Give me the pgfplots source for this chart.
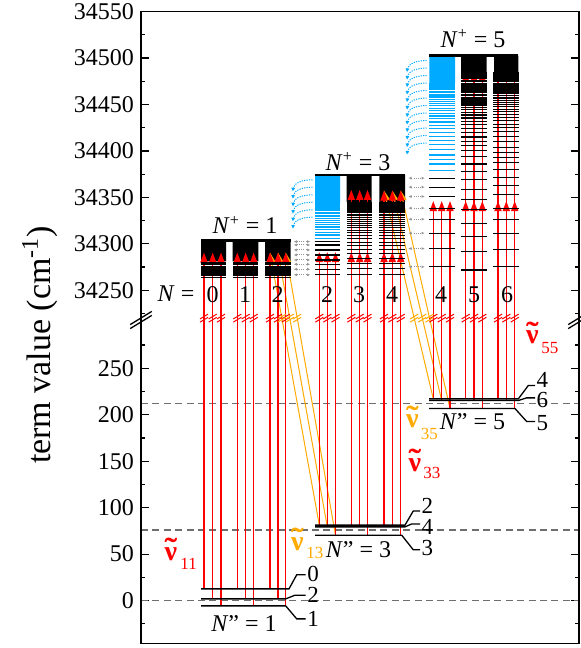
\documentclass[border=0pt]{standalone}
\usepackage{pgfplots}
\usepackage{pgfplotstable}
\pgfplotsset{compat=1.18}
\usepackage{fontspec}
\setmainfont{Liberation Serif}
\usetikzlibrary{arrows.meta}

\definecolor{rd}{RGB}{255,0,0}
\definecolor{og}{RGB}{255,170,0}
\definecolor{cy}{RGB}{0,170,255}
\definecolor{dg}{RGB}{110,110,110}
\definecolor{lg}{RGB}{150,150,150}

\pgfdeclareplotmark{brk}{%
  \pgfpathmoveto{\pgfqpoint{-2pt}{-2pt}}\pgfpathlineto{\pgfqpoint{2pt}{0.4pt}}%
  \pgfpathmoveto{\pgfqpoint{-2pt}{-0.4pt}}\pgfpathlineto{\pgfqpoint{2pt}{2pt}}%
  \pgfusepathqstroke}
\pgfdeclareplotmark{dda}{%
  \pgfsetdash{{0.5pt}{0.6pt}}{0pt}%
  \pgfpathmoveto{\pgfqpoint{-2.6pt}{0pt}}\pgfpathlineto{\pgfqpoint{2.6pt}{0pt}}%
  \pgfusepathqstroke
  \pgfsetdash{}{0pt}%
  \pgfpathmoveto{\pgfqpoint{-4pt}{0pt}}\pgfpathlineto{\pgfqpoint{-2.5pt}{0.7pt}}\pgfpathlineto{\pgfqpoint{-2.5pt}{-0.7pt}}\pgfpathclose
  \pgfpathmoveto{\pgfqpoint{4pt}{0pt}}\pgfpathlineto{\pgfqpoint{2.5pt}{0.7pt}}\pgfpathlineto{\pgfqpoint{2.5pt}{-0.7pt}}\pgfpathclose
  \pgfusepathqfill}
\pgfdeclareplotmark{carc}{%
  \pgfsetdash{{0.6pt}{0.6pt}}{0pt}%
  \pgfpathmoveto{\pgfqpoint{5pt}{2.5pt}}%
  \pgfpathcurveto{\pgfqpoint{0pt}{2.5pt}}{\pgfqpoint{-4.3pt}{1pt}}{\pgfqpoint{-4.6pt}{-1.8pt}}%
  \pgfusepathqstroke
  \pgfsetdash{}{0pt}%
  \pgfpathmoveto{\pgfqpoint{-4.8pt}{-3.2pt}}\pgfpathlineto{\pgfqpoint{-5.6pt}{-1.4pt}}\pgfpathlineto{\pgfqpoint{-3.7pt}{-1.6pt}}\pgfpathclose
  \pgfusepathqfill}

\pgfplotsset{
  bk/.style={x=0.5pt, y=0.4645pt, xmin=141, xmax=579, xtick=\empty,
    anchor=south west, axis line style={draw=none}, tick align=inside,
    scaled y ticks=false,
    major tick length=4pt, minor tick length=2.2pt,
    major tick style={black, line width=0.6pt}, minor tick style={black, line width=0.6pt},
    yticklabel style={font=\fontsize{12}{14}\selectfont}},
  ra/.style={rd, line width=0.55pt, -{Triangle[length=5pt,width=3.6pt]}},
  oa/.style={og, line width=0.5pt, -{Triangle[length=5pt,width=3.6pt]}},
  lv/.style={black, line width=0.65pt},
  rows/.style={only marks, mark=-, mark size=6.35pt, mark options={line width=0.6pt, draw=#1}},
}
\newcommand\up[2]{\addplot[ra] coordinates {(#1,34200) (#1,#2)};}
\newcommand\lo[2]{\addplot[rd, line width=0.55pt] coordinates {(#1,#2) (#1,320)};}
\newcommand\blk[5]{\addplot[fill=#5, draw=none] coordinates {(#1,#3) (#2,#3) (#2,#4) (#1,#4) (#1,#3)};}
\newcommand\lab{\fontsize{12}{14}\selectfont}
\newcommand\slab{\fontsize{11.5}{13}\selectfont}
\newcommand\nutil{\ooalign{ν\cr\hidewidth\raisebox{0.02em}{\scalebox{1.35}[1.1]{\char"02DC}}\hidewidth\cr}}
\newcommand\nut[3]{%
  \node[text=#1, font=\fontsize{14}{16}\selectfont\bfseries] at (axis cs:#2,#3) {\nutil};}
\newcommand\nus[4]{\node[text=#1, font=\fontsize{8.5}{10}\selectfont, anchor=west, inner sep=0pt] at (axis cs:#2,#3) {#4};}

% Rydberg rows (term values, cm^-1)
\pgfplotstableread[row sep=\\]{y\\34264.0\\34265.5\\34266.8\\34268.1\\34269.4\\34270.5\\34271.7\\34272.7\\34273.7\\34274.7\\34275.6\\34277.3\\34278.8\\34280.3\\}\tabA
\pgfplotstableread[row sep=\\]{y\\34266.6\\34273.0\\34278.9\\34284.3\\34289.2\\34293.7\\34297.9\\34301.8\\34305.4\\34308.7\\34311.8\\34314.7\\34317.3\\34319.8\\34322.2\\34324.4\\34326.4\\34328.4\\34330.2\\34331.9\\34333.5\\34335.0\\34336.5\\34337.8\\34339.1\\34340.3\\34341.5\\34342.6\\34343.6\\34344.6\\}\tabB
\pgfplotstableread[row sep=\\]{y\\34266.6\\34272.6\\34278.0\\34282.6\\34288.0\\34293.4\\34298.8\\34302.4\\}\tabBk
\pgfplotstableread[row sep=\\]{y\\34306.0\\34309.5\\34312.5\\34315.3\\34318.0\\34320.5\\34322.8\\34325.0\\34327.0\\34329.0\\34330.8\\34332.5\\34334.1\\34335.6\\34337.0\\34338.4\\34339.7\\34341.0\\34342.2\\34343.3\\}\tabBc
\pgfplotstableread[row sep=\\]{y\\34271.9\\34291.7\\34307.8\\34322.2\\34336.6\\34348.0\\34358.1\\34368.8\\34377.8\\34386.0\\34393.9\\34400.4\\34405.4\\34410.1\\34415.0\\34419.8\\34424.1\\34428.2\\34431.9\\34435.4\\34438.6\\34441.6\\34444.3\\34446.9\\34449.4\\34451.6\\34453.8\\34455.8\\34457.6\\34459.4\\34461.1\\34462.6\\34464.1\\34465.5\\34466.8\\34468.1\\34469.3\\34470.4\\34471.5\\34472.5\\34474.4\\34476.1\\34477.7\\34479.1\\34480.5\\34481.7\\34482.8\\34483.8\\}\tabCf
\pgfplotstableread[row sep=\\]{y\\34275.5\\34293.5\\34311.5\\34325.8\\34338.4\\34353.4\\34362.7\\34371.3\\34379.6\\34387.5\\34393.3\\34398.2\\34404.1\\34410.1\\34415.8\\34420.5\\34424.8\\34428.8\\34432.5\\34436.0\\34439.2\\34442.1\\34444.8\\34447.4\\34449.8\\34452.0\\34454.2\\34456.1\\34457.9\\34459.7\\34461.4\\34462.9\\34464.4\\34465.8\\34467.1\\34468.3\\34469.5\\34470.6\\34471.7\\34472.7\\34474.6\\34476.3\\34477.9\\34479.3\\34480.7\\34481.9\\34483.0\\34484.0\\}\tabCs
\pgfplotstableread[row sep=\\]{y\\34275.2\\34294.9\\34311.5\\34326.5\\34338.4\\34350.9\\34361.0\\34370.7\\}\tabCk
\pgfplotstableread[row sep=\\]{y\\34378.5\\34386.0\\34390.4\\34395.7\\34401.1\\34406.5\\34411.1\\34415.5\\34419.8\\34423.8\\34427.6\\34431.1\\34434.5\\34437.6\\34440.6\\34443.4\\34446.0\\34448.5\\34450.9\\34453.1\\34455.2\\34457.2\\34459.1\\34460.9\\34462.6\\34464.2\\34465.8\\34467.3\\34468.7\\34470.0\\34471.3\\34472.5\\}\tabCc
\pgfplotstableread[row sep=\\]{y\\34363.5\\34355.6\\34347.3\\34339.4\\34331.2\\34323.3\\}\arcB
\pgfplotstableread[row sep=\\]{y\\34491.9\\34483.8\\34475.7\\34467.7\\34459.6\\34451.5\\34443.4\\34435.4\\34427.3\\34419.2\\34411.1\\34403.1\\}\arcC

\begin{document}
\begin{tikzpicture}
\useasboundingbox (0,0) rectangle (290pt,324pt);
% ---------------- lower axis ----------------
\begin{axis}[bk, at={(70.5pt,2.35pt)}, ymin=-46, ymax=302,
  ytick={0,50,100,150,200,250}, yticklabels={0,50,100,150,200,250},
  minor ytick={-25,25,75,125,175,225,275}]
\addplot[dg, line width=0.55pt, dash pattern=on 3.5pt off 2.2pt] coordinates {(141,0) (579,0)};
\addplot[dg, line width=0.55pt, dash pattern=on 3.5pt off 2.2pt] coordinates {(141,76) (579,76)};
\addplot[dg, line width=0.55pt, dash pattern=on 3.5pt off 2.2pt] coordinates {(141,212.5) (579,212.5)};
% orange transitions (lower part)
\addplot[og, line width=0.5pt] coordinates {(319.3,81.2) (270,374.6)};
\addplot[og, line width=0.5pt] coordinates {(327.3,79.3) (278,374.6)};
\addplot[og, line width=0.5pt] coordinates {(335.5,70.4) (285.7,374.6)};
\addplot[og, line width=0.5pt] coordinates {(433.3,217.1) (384,441.3)};
\addplot[og, line width=0.5pt] coordinates {(441.7,215.3) (392.3,441.3)};
\addplot[og, line width=0.5pt] coordinates {(450,206.7) (400.7,441.3)};
% red transitions (lower part)
\lo{204}{12.6}\lo{212.7}{1.8}\lo{221}{-5.7}
\lo{237.3}{12.6}\lo{245.7}{1.8}\lo{253.7}{-5.7}
\lo{270}{12.6}\lo{278}{1.8}\lo{285.7}{-5.7}
\lo{319.3}{81.2}\lo{327.3}{79.3}\lo{335.5}{70.4}
\lo{351.3}{81.2}\lo{359.7}{79.3}\lo{367.5}{70.4}
\lo{384}{81.2}\lo{392.3}{79.3}\lo{400.7}{70.4}
\lo{433.3}{217.1}\lo{441.7}{215.3}\lo{450}{206.7}
\lo{465.7}{217.1}\lo{474}{215.3}\lo{482.3}{206.7}
\lo{498}{217.1}\lo{506.3}{215.3}\lo{514.7}{206.7}
% lower levels with label leaders
\addplot[lv] coordinates {(201,12.6) (289,12.6) (296.7,27.7) (305.7,27.7)};
\addplot[lv] coordinates {(201,1.8) (285.7,1.8) (295,5.8) (305.7,5.8)};
\addplot[lv] coordinates {(201,-5.7) (285.7,-5.7) (296.7,-19.7) (305.7,-19.7)};
\addplot[lv] coordinates {(315,81.2) (405,81.2) (413.3,96.5) (420,96.5)};
\addplot[lv] coordinates {(315,79.3) (405,79.3) (411.7,82.5) (420,82.5)};
\addplot[lv] coordinates {(315,70.4) (401.7,70.4) (413.3,54.6) (420,54.6)};
\addplot[lv] coordinates {(429,217.1) (518.3,217.1) (528.3,231.5) (535,231.5)};
\addplot[lv] coordinates {(429,215.3) (518.3,215.3) (526.7,218.2) (535,218.2)};
\addplot[lv] coordinates {(429,206.7) (515,206.7) (526.7,192.7) (535,192.7)};
% labels
\node[font=\slab, anchor=west, inner sep=0.6pt] at (axis cs:305.7,28.2) {0};
\node[font=\slab, anchor=west, inner sep=0.6pt] at (axis cs:305.7,6.0) {2};
\node[font=\slab, anchor=west, inner sep=0.6pt] at (axis cs:305.7,-20.2) {1};
\node[font=\slab, anchor=west, inner sep=0.6pt] at (axis cs:420,101.5) {2};
\node[font=\slab, anchor=west, inner sep=0.6pt] at (axis cs:420,79) {4};
\node[font=\slab, anchor=west, inner sep=0.6pt] at (axis cs:420,56.5) {3};
\node[font=\slab, anchor=west, inner sep=0.6pt] at (axis cs:535,237.5) {4};
\node[font=\slab, anchor=west, inner sep=0.6pt] at (axis cs:535,215.5) {6};
\node[font=\slab, anchor=west, inner sep=0.6pt] at (axis cs:535,191.5) {5};
\node[font=\lab] at (axis cs:244,-25.1) {\textit{N}'' = 1};
\node[font=\lab] at (axis cs:358.5,54.6) {\textit{N}'' = 3};
\node[font=\lab] at (axis cs:472.5,192.4) {\textit{N}'' = 5};
\nut{rd}{171}{50.3}\nus{rd}{180}{39.4}{11}
\nut{og}{297.5}{61}\nus{og}{306}{51.3}{13}
\nut{rd}{415}{146.1}\nus{rd}{423}{137.5}{33}
\nut{og}{412.5}{192.9}\nus{og}{420.5}{179.4}{35}
\nut{rd}{532.5}{283.3}\nus{rd}{541}{271.5}{55}
\end{axis}
% ---------------- upper axis ----------------
\begin{axis}[bk, at={(70.5pt,164pt)}, ymin=34218, ymax=34550,
  ytick={34250,34300,34350,34400,34450,34500,34550},
  yticklabels={34250,34300,34350,34400,34450,34500,34550},
  minor ytick={34225,34275,34325,34375,34425,34475,34525}]
% N+ = 1
\blk{201}{226}{34281}{34303.5}{black}
\blk{232.7}{258.3}{34281}{34303.5}{black}
\blk{265}{290.7}{34281}{34303.5}{black}
\addplot[only marks, mark=-, mark size=6.35pt, mark options={line width=0.45pt, draw=black}] table[x expr=213.5, y=y] {\tabA};
\addplot[only marks, mark=-, mark size=6.35pt, mark options={line width=0.45pt, draw=black}] table[x expr=245.5, y=y] {\tabA};
\addplot[only marks, mark=-, mark size=6.35pt, mark options={line width=0.45pt, draw=black}] table[x expr=277.85, y=y] {\tabA};
\addplot[black, line width=1.3pt] coordinates {(201,34303.5) (290.7,34303.5)};
% N+ = 3
\blk{315}{340}{34344}{34374.2}{cy}
\blk{346.7}{371.7}{34345}{34374.2}{black}
\blk{379.3}{405}{34345}{34374.2}{black}
\addplot[rows=black] table[x expr=327.5, y=y] {\tabBk};
\addplot[rows=cy] table[x expr=327.5, y=y] {\tabBc};
\addplot[rows=black] table[x expr=359.2, y=y] {\tabB};
\addplot[rows=black] table[x expr=392.15, y=y] {\tabB};
\addplot[black, line width=1.3pt] coordinates {(315,34374.2) (405,34374.2)};
% N+ = 5
\blk{429.3}{455}{34473}{34502.6}{cy}
\blk{461}{486.7}{34484}{34502.6}{black}
\blk{494}{518.3}{34484}{34502.6}{black}
\addplot[rows=black] table[x expr=442.15, y=y] {\tabCk};
\addplot[rows=cy] table[x expr=442.15, y=y] {\tabCc};
\addplot[rows=black] table[x expr=473.85, y=y] {\tabCf};
\addplot[rows=black] table[x expr=506.15, y=y] {\tabCs};
\addplot[black, line width=1.3pt] coordinates {(429.3,34502.6) (518.3,34502.6)};
% couplings
\addplot[only marks, mark=dda, mark options={draw=lg, fill=lg, line width=0.5pt}] table[x expr=302, y=y] {\tabBk};
\addplot[only marks, mark=dda, mark options={draw=lg, fill=lg, line width=0.5pt}] table[x expr=416.5, y=y] {\tabCk};
\addplot[only marks, mark=carc, mark options={draw=cy, fill=cy, line width=0.5pt}] table[x expr=302.5, y=y] {\arcB};
\addplot[only marks, mark=carc, mark options={draw=cy, fill=cy, line width=0.5pt}] table[x expr=416.7, y=y] {\arcC};
% orange (upper part)
\addplot[oa] coordinates {(319.3,33997.2) (270,34290.6)};
\addplot[oa] coordinates {(327.3,33995.3) (278,34290.6)};
\addplot[oa] coordinates {(335.5,33986.4) (285.7,34290.6)};
\addplot[oa] coordinates {(433.3,34133.1) (384,34357.3)};
\addplot[oa] coordinates {(441.7,34131.3) (392.3,34357.3)};
\addplot[oa] coordinates {(450,34122.7) (400.7,34357.3)};
% red excitations (upper part)
\up{204}{34290.6}\up{212.7}{34290.6}\up{221}{34290.6}
\up{237.3}{34290.6}\up{245.7}{34290.6}\up{253.7}{34290.6}
\up{270}{34290.6}\up{278}{34290.6}\up{285.7}{34290.6}
\up{319.3}{34291}\up{327.3}{34291}\up{335.5}{34291}
\up{351.3}{34291}\up{359.7}{34291}\up{367.5}{34291}
\up{384}{34291}\up{392.3}{34291}\up{400.7}{34291}
\up{351.3}{34358}\up{359.7}{34358}\up{367.5}{34358}
\up{384}{34357.3}\up{392.3}{34357.3}\up{400.7}{34357.3}
\up{433.3}{34346}\up{441.7}{34346}\up{450}{34346}
\up{465.7}{34346}\up{474}{34346}\up{482.3}{34346}
\up{498}{34346}\up{506.3}{34346}\up{514.7}{34346}
\up{465.7}{34485.4}\up{474}{34485.4}\up{482.3}{34485.4}
\up{498}{34485.4}\up{506.3}{34485.4}\up{514.7}{34485.4}
% break marks on the transitions
\addplot[only marks, mark=brk, mark options={draw=rd, line width=0.5pt}] coordinates {
 (204,34220) (212.7,34220) (221,34220) (237.3,34220) (245.7,34220) (253.7,34220)
 (270,34220) (278,34220) (285.7,34220) (319.3,34220) (327.3,34220) (335.5,34220)
 (351.3,34220) (359.7,34220) (367.5,34220) (384,34220) (392.3,34220) (400.7,34220)
 (433.3,34220) (441.7,34220) (450,34220) (465.7,34220) (474,34220) (482.3,34220)
 (498,34220) (506.3,34220) (514.7,34220)};
\addplot[only marks, mark=brk, mark options={draw=og, line width=0.5pt}] coordinates {
 (281.8,34220) (289.7,34220) (297.2,34220) (414.1,34220) (422.2,34220) (429.5,34220)};
% labels
\node[font=\lab] at (axis cs:176,34246) {\textit{N} =};
\node[font=\lab] at (axis cs:212.5,34245) {0};
\node[font=\lab] at (axis cs:245,34245) {1};
\node[font=\lab] at (axis cs:277.5,34245) {2};
\node[font=\lab] at (axis cs:327,34245) {2};
\node[font=\lab] at (axis cs:359,34245) {3};
\node[font=\lab] at (axis cs:392,34245) {4};
\node[font=\lab] at (axis cs:441,34245) {4};
\node[font=\lab] at (axis cs:474,34245) {5};
\node[font=\lab] at (axis cs:507,34245) {6};
\node[font=\lab] at (axis cs:245,34320.4) {\textit{N}\textsuperscript{+} = 1};
\node[font=\lab] at (axis cs:358,34388.2) {\textit{N}\textsuperscript{+} = 3};
\node[font=\lab] at (axis cs:473,34520.6) {\textit{N}\textsuperscript{+} = 5};
\end{axis}
% frame with axis breaks
\draw[line width=0.65pt] (70.5pt,2.35pt) rectangle (289.5pt,318.21pt);
\foreach \xx in {70.5,289.5}{
  \draw[line width=0.65pt] (\xx pt-5.4pt,164pt-4.3pt) -- ++(10.8pt,6.6pt);
  \draw[line width=0.65pt] (\xx pt-5.4pt,164pt-2.3pt) -- ++(10.8pt,6.6pt);
}
\node[rotate=90, font=\fontsize{17}{20}\selectfont] at (20pt,151.5pt) {term value (cm\textsuperscript{-1})};
\end{tikzpicture}
\end{document}
